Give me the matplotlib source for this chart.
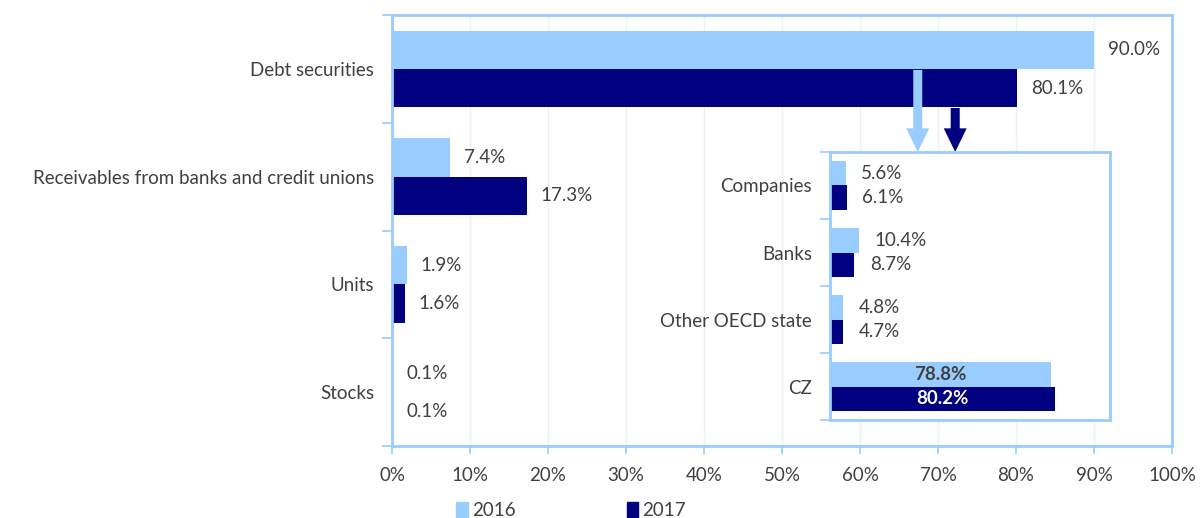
import numpy as np
import matplotlib.pyplot as plt
from matplotlib.patches import Patch

# asset structure, share of total
categories = ["Debt securities", "Receivables from banks and credit unions", "Units", "Stocks"]
share_2016 = [90.0, 7.4, 1.9, 0.1]
share_2017 = [80.1, 17.3, 1.6, 0.1]

# breakdown of debt securities by issuer
issuers = ["Companies", "Banks", "Other OECD state", "CZ"]
issuer_2016 = [5.6, 10.4, 4.8, 78.8]
issuer_2017 = [6.1, 8.7, 4.7, 80.2]

light = "#99ccff"
navy = "#000080"
grey = "#404040"
fs = 13.5
plt.rcParams['font.family'] = ['Lato', 'DejaVu Sans']

fig = plt.figure(figsize=(12, 5.18), dpi=100)
ax = fig.add_axes([0.3267, 0.139, 0.65, 0.832])

y = np.arange(len(categories))
h = 0.355
ax.barh(y - h/2, share_2016, height=h, color=light, zorder=2)
ax.barh(y + h/2, share_2017, height=h, color=navy, zorder=2)
for yi, a, b in zip(y, share_2016, share_2017):
    ax.annotate(f"{a:.1f}%", (a, yi - h/2), xytext=(10, 0), textcoords="offset points",
                va="center", ha="left", fontsize=fs, color=grey)
    ax.annotate(f"{b:.1f}%", (b, yi + h/2), xytext=(10, 0), textcoords="offset points",
                va="center", ha="left", fontsize=fs, color=grey)

ax.set_ylim(3.5, -0.5)
ax.set_xlim(0, 100)
ax.set_yticks(np.arange(-0.5, 4, 1), minor=False)
ax.set_yticklabels([])
ax.set_yticks(y, minor=True)
ax.set_yticklabels(categories, minor=True)
ax.tick_params(axis="y", which="minor", length=0, pad=13, labelsize=fs, labelcolor=grey)
ax.tick_params(axis="y", which="major", length=7, color=light, width=1.2)
ax.set_xticks(np.arange(0, 101, 10))
ax.set_xticklabels([f"{v}%" for v in range(0, 101, 10)])
ax.tick_params(axis="x", length=6, color=light, width=1.2, labelsize=fs, labelcolor=grey, pad=9)
ax.grid(axis="x", color="#e8f1fb", linewidth=1, zorder=0)
ax.set_axisbelow(True)
for s in ax.spines.values():
    s.set_color(light)
    s.set_linewidth(2)

# arrows pointing from the debt securities bars into the breakdown
style = "simple,head_width=1.65,head_length=1.7,tail_width=0.65"
ax.annotate("", xy=(67.4, 0.771), xytext=(67.4, 0.01),
            arrowprops=dict(arrowstyle=style, color=light, lw=0, shrinkA=0, shrinkB=0), zorder=3)
ax.annotate("", xy=(72.2, 0.771), xytext=(72.2, 0.363),
            arrowprops=dict(arrowstyle=style, color=navy, lw=0, shrinkA=0, shrinkB=0), zorder=3)

# inset with issuer breakdown
ins = fig.add_axes([0.6917, 0.189, 0.2333, 0.5176])
yi = np.arange(len(issuers))
hi = 0.36
ins.barh(yi - hi/2, issuer_2016, height=hi, color=light)
ins.barh(yi + hi/2, issuer_2017, height=hi, color=navy)
for k, (a, b) in enumerate(zip(issuer_2016, issuer_2017)):
    if a > 50:
        ins.text(a/2, k - hi/2, f"{a:.1f}%", ha="center", va="center",
                 fontsize=fs, fontweight="bold", color=grey)
        ins.text(b/2, k + hi/2, f"{b:.1f}%", ha="center", va="center",
                 fontsize=fs, fontweight="bold", color="white")
    else:
        ins.annotate(f"{a:.1f}%", (a, k - hi/2), xytext=(11, 0), textcoords="offset points",
                     va="center", ha="left", fontsize=fs, color=grey)
        ins.annotate(f"{b:.1f}%", (b, k + hi/2), xytext=(11, 0), textcoords="offset points",
                     va="center", ha="left", fontsize=fs, color=grey)
ins.set_xlim(0, 100)
ins.set_ylim(3.5, -0.5)
ins.set_xticks([])
ins.set_yticks(np.arange(-0.5, 4, 1))
ins.set_yticklabels([])
ins.set_yticks(yi, minor=True)
ins.set_yticklabels(issuers, minor=True)
ins.tick_params(axis="y", which="minor", length=0, pad=13, labelsize=fs, labelcolor=grey)
ins.tick_params(axis="y", which="major", length=7, color=light, width=1.2)
for s in ins.spines.values():
    s.set_color(light)
    s.set_linewidth(2)

handles = [Patch(color=light, label="2016"), Patch(color=navy, label="2017")]
fig.legend(handles=handles, loc="lower center", bbox_to_anchor=(0.476, -0.035), ncol=2,
           frameon=False, fontsize=fs, labelcolor=grey, handlelength=0.6, handleheight=0.9,
           handletextpad=0.25, columnspacing=5.9)

fig.savefig("out.png", dpi=100)
